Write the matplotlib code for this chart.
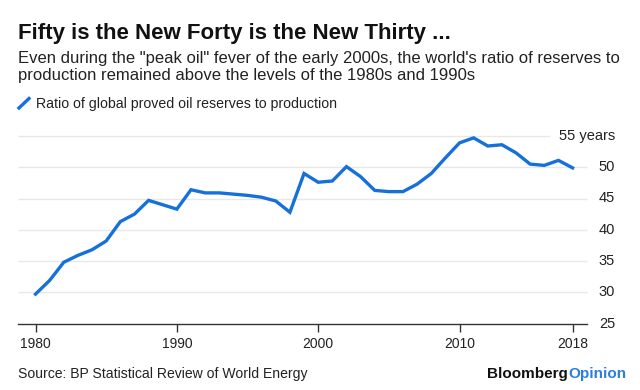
import matplotlib
matplotlib.use("Agg")
import matplotlib.pyplot as plt
import matplotlib.transforms as mtransforms

plt.rcParams['font.family'] = ['Liberation Sans', 'DejaVu Sans']

# Ratio of global proved oil reserves to production (years)
years = list(range(1980, 2019))
ratio = [29.7, 31.9, 34.8, 35.9, 36.8, 38.2, 41.3, 42.5, 44.7, 44.0,
         43.3, 46.4, 45.9, 45.9, 45.7, 45.5, 45.2, 44.6, 42.8, 49.0,
         47.6, 47.8, 50.1, 48.5, 46.3, 46.1, 46.1, 47.3, 49.0, 51.5,
         53.9, 54.7, 53.4, 53.6, 52.3, 50.5, 50.3, 51.1, 49.9]

x_ticks = [1980, 1990, 2000, 2010, 2018]
y_ticks = [25, 30, 35, 40, 45, 50, 55]
y_labels = ['25', '30', '35', '40', '45', '50', '55 years']

title = "Fifty is the New Forty is the New Thirty ..."
subtitle_1 = "Even during the \"peak oil\" fever of the early 2000s, the world's ratio of reserves to"
subtitle_2 = "production remained above the levels of the 1980s and 1990s"
legend_label = "Ratio of global proved oil reserves to production"
source = "Source: BP Statistical Review of World Energy"

W, H = 640, 390
blue = '#1670dc'

fig = plt.figure(figsize=(W / 100, H / 100), dpi=100)
fig.patch.set_facecolor('white')


def fx(px):
    return px / W


def fy(py):
    return 1 - py / H


# axes box: 1980..2018 mapped between left/right spine pixels
ax = fig.add_axes([fx(18), fy(323.5), fx(587 - 18), (323.5 - 136) / H])
ax.set_xlim(1978.76, 2019.02)
ax.set_ylim(25, 55)

# gridlines (top one shortened to leave room for the "years" label)
for v in y_ticks[1:]:
    x_end = 2016.4 if v == 55 else 2019.02
    ax.hlines(v, 1978.76, x_end, color='#e8e8e8', lw=1.0, zorder=1, clip_on=False)

ax.plot(years, ratio, color=blue, lw=2.4, solid_joinstyle='miter', zorder=3)

for s in ['top', 'right', 'left']:
    ax.spines[s].set_visible(False)
ax.spines['bottom'].set_color('#333333')
ax.spines['bottom'].set_linewidth(1.0)
ax.set_yticks([])
ax.set_xticks(x_ticks)
ax.set_xticklabels([str(t) for t in x_ticks], fontsize=10, color='#222222')
ax.tick_params(axis='x', length=6, width=1.0, color='#333333', pad=4)

trans = mtransforms.blended_transform_factory(ax.transAxes, ax.transData)
xr = (615 - 18) / (587 - 18)
for v, lab in zip(y_ticks, y_labels):
    ax.text(xr, v, lab, transform=trans, ha='right', va='center',
            fontsize=10.5, color='#222222', clip_on=False)

# header
fig.text(fx(18), fy(39), title, fontsize=16, fontweight='bold', color='#111111',
         va='baseline', ha='left')
fig.text(fx(18), fy(63), subtitle_1, fontsize=12, color='#222222',
         va='baseline', ha='left')
fig.text(fx(18), fy(80), subtitle_2, fontsize=12, color='#222222',
         va='baseline', ha='left')

# legend swatch + label
fig.add_artist(plt.Line2D([fx(19), fx(29)], [fy(108), fy(98.5)], color=blue, lw=2.4))
fig.text(fx(36), fy(108), legend_label, fontsize=10.2, color='#222222',
         va='baseline', ha='left')

# footer
fig.text(fx(18), fy(378), source, fontsize=10.1, color='#222222',
         va='baseline', ha='left')
fig.text(fx(568), fy(378), 'Bloomberg', fontsize=11, fontweight='bold',
         color='#111111', va='baseline', ha='right')
fig.text(fx(568), fy(378), 'Opinion', fontsize=11, fontweight='bold',
         color='#2a7de1', va='baseline', ha='left')

fig.savefig('out.png', dpi=100, facecolor='white')
